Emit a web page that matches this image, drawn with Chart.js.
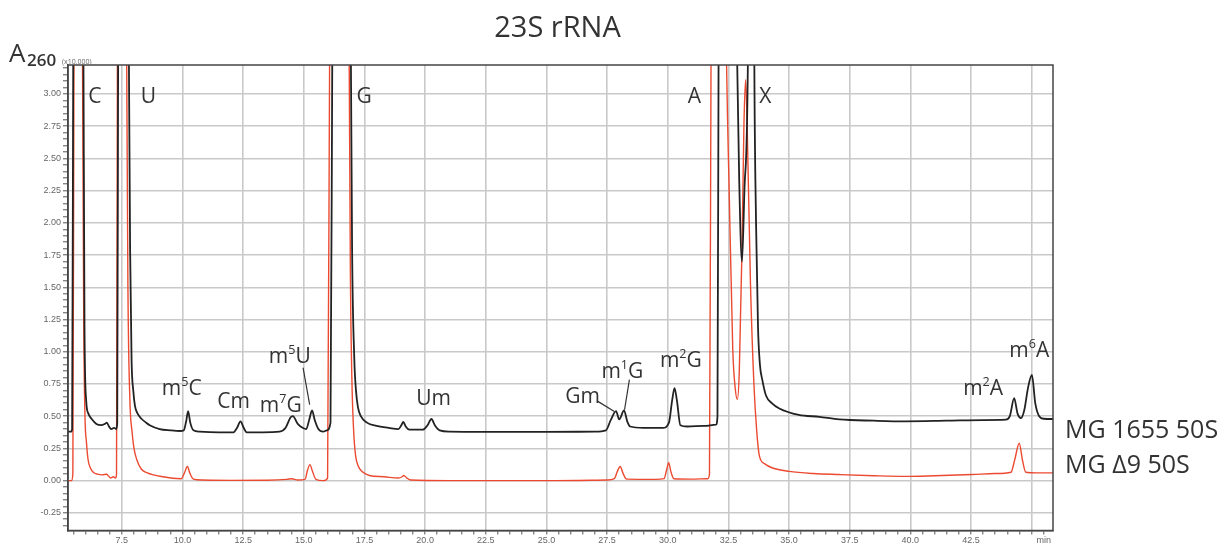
<!DOCTYPE html>
<html>
<head>
<meta charset="utf-8">
<title>23S rRNA</title>
<script src="https://cdn.jsdelivr.net/npm/chart.js@4.4.1/dist/chart.umd.min.js"></script>
<style>
    html, body { margin: 0; padding: 0; background: #fff; }
    #wrap { position: relative; width: 1227px; height: 546px; }
</style>
</head>
<body>
<div id="wrap"><canvas id="chart"></canvas></div>
<script>
// HPLC nucleoside trace: retention time (min) vs A260 (x10,000)
const chartTitle = '23S rRNA';
const seriesNames = ['MG 1655 50S', 'MG \u03949 50S'];
const seriesLabelLevel = [0.333, 0.062];

const xMin = 5.28, xMax = 45.88;
const yMin = -0.387, yMax = 3.225;
const xTickLabels = ['7.5', '10.0', '12.5', '15.0', '17.5', '20.0', '22.5', '25.0', '27.5', '30.0', '32.5', '35.0', '37.5', '40.0', '42.5'];
const xUnitLabel = 'min';
const xUnitAt = 45.5;
const yTickLabels = ['-0.25', '0.00', '0.25', '0.50', '0.75', '1.00', '1.25', '1.50', '1.75', '2.00', '2.25', '2.50', '2.75', '3.00'];

// MG 1655 50S (black)
const blackTime = [
    5.28, 5.40, 5.45, 5.50, 5.70, 5.91, 5.96, 6.03, 6.12, 6.25,
    6.45, 6.65, 6.80, 6.88, 6.97, 7.06, 7.18, 7.27, 7.31, 7.35,
    7.55, 7.78, 7.84, 7.90, 7.97, 8.04, 8.15, 8.31, 8.50, 8.65,
    9.06, 9.50, 9.90, 10.05, 10.15, 10.23, 10.32, 10.45, 10.70, 11.50,
    12.10, 12.25, 12.39, 12.52, 12.65, 13.30, 14.00, 14.25, 14.45, 14.55,
    14.75, 14.95, 15.10, 15.22, 15.34, 15.45, 15.60, 15.80, 15.95, 16.10,
    16.18, 16.55, 16.93, 16.99, 17.08, 17.15, 17.23, 17.35, 17.60, 18.00,
    18.50, 18.90, 19.02, 19.10, 19.20, 19.35, 19.90, 20.10, 20.26, 20.40,
    20.60, 21.00, 23.00, 25.00, 27.00, 27.45, 27.65, 27.87, 28.00, 28.20,
    28.33, 28.45, 29.00, 29.80, 30.05, 30.18, 30.28, 30.38, 30.52, 30.80,
    31.50, 31.99, 32.05, 32.10, 32.45, 32.83, 32.95, 33.06, 33.17, 33.32,
    33.44, 33.56, 33.64, 33.72, 33.80, 33.90, 34.05, 34.30, 34.60, 35.40,
    36.25, 37.07, 38.50, 39.80, 41.50, 43.00, 43.94, 44.10, 44.28, 44.42,
    44.56, 44.70, 44.85, 45.01, 45.15, 45.31, 45.50, 45.88
];
const blackA260 = [
    0.38, 0.38, 0.40, 3.6, 9.0, 3.6, 1.2, 0.62, 0.52, 0.48,
    0.44, 0.43, 0.44, 0.45, 0.42, 0.40, 0.41, 0.40, 0.45, 3.6,
    10.0, 3.6, 1.8, 0.94, 0.70, 0.58, 0.52, 0.48, 0.45, 0.43,
    0.40, 0.39, 0.385, 0.39, 0.46, 0.54, 0.45, 0.39, 0.38, 0.375,
    0.375, 0.41, 0.46, 0.41, 0.375, 0.375, 0.38, 0.41, 0.49, 0.50,
    0.44, 0.41, 0.40, 0.47, 0.545, 0.47, 0.40, 0.38, 0.39, 0.45,
    3.6, 12.0, 3.6, 1.8, 0.95, 0.70, 0.57, 0.50, 0.45, 0.425,
    0.41, 0.40, 0.43, 0.455, 0.42, 0.395, 0.395, 0.43, 0.478, 0.43,
    0.39, 0.38, 0.378, 0.378, 0.38, 0.39, 0.47, 0.54, 0.475, 0.545,
    0.46, 0.42, 0.41, 0.41, 0.45, 0.62, 0.718, 0.62, 0.43, 0.42,
    0.425, 0.434, 0.50, 3.6, 12.0, 3.6, 2.3, 1.70, 2.3, 3.6,
    12.0, 3.6, 2.0, 1.2, 0.90, 0.78, 0.66, 0.60, 0.56, 0.51,
    0.495, 0.475, 0.465, 0.46, 0.465, 0.47, 0.473, 0.50, 0.64, 0.52,
    0.486, 0.55, 0.72, 0.82, 0.60, 0.50, 0.48, 0.478
];

// MG Δ9 50S (red)
const redTime = [
    5.28, 5.42, 5.48, 5.53, 5.70, 5.87, 5.93, 5.98, 6.04, 6.11,
    6.20, 6.32, 6.50, 6.70, 6.87, 6.95, 7.03, 7.15, 7.24, 7.28,
    7.32, 7.50, 7.69, 7.75, 7.83, 7.92, 8.00, 8.12, 8.30, 8.55,
    8.80, 9.20, 9.60, 9.95, 10.08, 10.20, 10.30, 10.45, 10.80, 12.00,
    13.50, 14.30, 14.50, 14.75, 15.05, 15.15, 15.25, 15.36, 15.50, 15.80,
    15.98, 16.07, 16.45, 16.86, 16.92, 16.98, 17.05, 17.13, 17.23, 17.40,
    17.70, 18.30, 18.90, 19.05, 19.12, 19.25, 19.40, 21.00, 25.00, 27.50,
    27.80, 27.92, 28.04, 28.15, 28.30, 29.50, 29.85, 29.95, 30.04, 30.13,
    30.25, 31.00, 31.65, 31.72, 31.79, 32.05, 32.40, 32.54, 32.68, 32.78,
    32.87, 32.95, 33.06, 33.14, 33.21, 33.28, 33.41, 33.55, 33.67, 33.78,
    34.00, 34.32, 35.00, 36.00, 37.07, 38.50, 39.80, 41.00, 42.55, 43.50,
    44.15, 44.30, 44.49, 44.62, 44.76, 45.20, 45.88
];
const redA260 = [
    0.0, 0.0, 0.05, 3.6, 9.0, 3.6, 1.2, 0.50, 0.30, 0.16,
    0.10, 0.065, 0.05, 0.045, 0.05, 0.035, 0.02, 0.03, 0.02, 0.05,
    3.6, 10.0, 3.6, 1.5, 0.63, 0.38, 0.25, 0.16, 0.09, 0.06,
    0.045, 0.03, 0.018, 0.015, 0.06, 0.11, 0.06, 0.012, 0.005, 0.002,
    0.003, 0.01, 0.015, 0.005, 0.01, 0.08, 0.124, 0.07, 0.01, 0.0,
    0.02, 3.6, 12.0, 3.6, 1.6, 0.8, 0.4, 0.2, 0.12, 0.07,
    0.04, 0.03, 0.02, 0.03, 0.04, 0.02, 0.005, 0.0, 0.0, 0.005,
    0.015, 0.07, 0.11, 0.06, 0.012, 0.01, 0.015, 0.08, 0.14, 0.07,
    0.015, 0.012, 0.015, 0.05, 3.6, 12.0, 3.6, 2.18, 1.02, 0.72,
    0.63, 0.85, 1.79, 2.75, 3.11, 2.7, 1.53, 0.76, 0.38, 0.19,
    0.13, 0.098, 0.072, 0.055, 0.047, 0.038, 0.033, 0.038, 0.047, 0.055,
    0.065, 0.16, 0.29, 0.16, 0.065, 0.06, 0.06
];

// peak annotations (time, A260 of the text baseline)
const peakNames = ['C', 'U', 'G', 'A', 'X', 'm5C', 'Cm', 'm7G', 'm5U', 'Um', 'Gm', 'm1G', 'm2G', 'm2A', 'm6A'];
const peakLabelTime = [6.39, 8.59, 17.49, 31.1, 34.02, 9.97, 12.11, 14.05, 14.42, 20.35, 26.49, 28.13, 30.54, 43.0, 44.9];
const peakLabelLevel = [2.93, 2.93, 2.93, 2.93, 2.93, 0.667, 0.566, 0.535, 0.915, 0.589, 0.605, 0.798, 0.884, 0.667, 0.961];
const leaderFrom = [[14.97, 0.876], [27.12, 0.615], [28.42, 0.783]];
const leaderTo = [[15.24, 0.589], [27.80, 0.537], [28.22, 0.55]];

const FONT = "'Open Sans', 'Noto Sans', sans-serif";
const TICK_FONT = "'Liberation Sans', Arial, sans-serif";
const GRID = '#c9c9c9';

function toPoints(xs, ys) {
    return xs.map(function (t, i) { return { x: t, y: ys[i] }; });
}

function isMultiple(v, step) {
    const q = v / step;
    return Math.abs(q - Math.round(q)) < 1e-6;
}

function drawPeakName(ctx, name, cx, baseY, size) {
    const m = name.match(/^m(\d)(.*)$/);
    const parts = m
        ? [{ s: 'm', f: size, dy: 0 }, { s: m[1], f: size * 0.6, dy: -size * 0.4 }, { s: m[2], f: size, dy: 0 }]
        : [{ s: name, f: size, dy: 0 }];
    let w = 0;
    parts.forEach(function (p) {
        ctx.font = p.f + 'px ' + FONT;
        p.w = ctx.measureText(p.s).width;
        w += p.w;
    });
    let xx = cx - w / 2;
    parts.forEach(function (p) {
        ctx.font = p.f + 'px ' + FONT;
        ctx.fillText(p.s, xx, baseY + p.dy);
        xx += p.w;
    });
}

const annotatePlugin = {
    id: 'annotate',
    afterDraw: function (chart) {
        const ctx = chart.ctx;
        const area = chart.chartArea;
        const x = chart.scales.x, y = chart.scales.y;
        ctx.save();

        // frame
        ctx.strokeStyle = '#444';
        ctx.lineWidth = 1.5;
        ctx.strokeRect(area.left, area.top, area.right - area.left, area.bottom - area.top);

        ctx.fillStyle = '#333';
        ctx.textAlign = 'left';
        ctx.textBaseline = 'alphabetic';

        // title
        ctx.font = '29px ' + FONT;
        ctx.textAlign = 'center';
        ctx.fillText(chartTitle, (area.left + area.right) / 2 - 3, 37);
        ctx.textAlign = 'left';

        // y axis caption
        ctx.font = '26px ' + FONT;
        ctx.fillText('A', 9, 62);
        ctx.font = '600 17px ' + FONT;
        ctx.fillText('260', 27, 66);
        ctx.fillStyle = '#666';
        ctx.font = '7px ' + FONT;
        ctx.fillText('(x10,000)', 62, 64);

        // peak names
        ctx.fillStyle = '#333';
        peakNames.forEach(function (name, i) {
            drawPeakName(ctx, name, x.getPixelForValue(peakLabelTime[i]), y.getPixelForValue(peakLabelLevel[i]), 21);
        });

        // leader lines
        ctx.strokeStyle = '#333';
        ctx.lineWidth = 1.2;
        leaderFrom.forEach(function (p, i) {
            ctx.beginPath();
            ctx.moveTo(x.getPixelForValue(p[0]), y.getPixelForValue(p[1]));
            ctx.lineTo(x.getPixelForValue(leaderTo[i][0]), y.getPixelForValue(leaderTo[i][1]));
            ctx.stroke();
        });

        // series names at the right of the traces
        ctx.font = '25px ' + FONT;
        seriesNames.forEach(function (name, i) {
            ctx.fillText(name, area.right + 12, y.getPixelForValue(seriesLabelLevel[i]));
        });
        ctx.restore();
    }
};

new Chart(document.getElementById('chart'), {
    type: 'line',
    data: {
        datasets: [
            {
                label: seriesNames[0],
                data: toPoints(blackTime, blackA260),
                borderColor: '#222',
                borderWidth: 1.8,
                pointRadius: 0,
                cubicInterpolationMode: 'monotone',
                fill: false
            },
            {
                label: seriesNames[1],
                data: toPoints(redTime, redA260),
                borderColor: '#ec4a30',
                borderWidth: 1.4,
                pointRadius: 0,
                cubicInterpolationMode: 'monotone',
                fill: false
            }
        ]
    },
    options: {
        responsive: true,
        maintainAspectRatio: false,
        animation: false,
        events: [],
        layout: { padding: { top: 65, right: 174, left: 0, bottom: 0 } },
        plugins: {
            legend: { display: false },
            tooltip: { enabled: false },
            title: { display: false }
        },
        scales: {
            x: {
                type: 'linear',
                min: xMin,
                max: xMax,
                afterBuildTicks: function (axis) {
                    const ticks = [];
                    for (let k = Math.ceil(axis.min * 2); k <= Math.floor(axis.max * 2); k++) ticks.push({ value: k / 2 });
                    axis.ticks = ticks;
                },
                afterFit: function (axis) { axis.height = 15.5; },
                ticks: {
                    autoSkip: false,
                    maxRotation: 0,
                    padding: 1,
                    color: '#666',
                    font: { family: TICK_FONT, size: 9 },
                    callback: function (value) {
                        const s = value.toFixed(1);
                        if (xTickLabels.indexOf(s) >= 0) return s;
                        if (Math.abs(value - xUnitAt) < 1e-6) return xUnitLabel;
                        return '';
                    }
                },
                grid: {
                    color: function (c) { return c.tick && isMultiple(c.tick.value, 2.5) ? GRID : 'rgba(0,0,0,0)'; },
                    lineWidth: 1.6,
                    tickColor: '#555',
                    tickLength: 4,
                    tickWidth: 1
                },
                border: { color: '#444', width: 1.5 }
            },
            y: {
                type: 'linear',
                min: yMin,
                max: yMax,
                afterBuildTicks: function (axis) {
                    const ticks = [];
                    for (let k = Math.ceil(axis.min * 20); k <= Math.floor(axis.max * 20); k++) ticks.push({ value: k / 20 });
                    axis.ticks = ticks;
                },
                afterFit: function (axis) { axis.width = 68; },
                ticks: {
                    autoSkip: false,
                    padding: 2,
                    color: '#666',
                    font: { family: TICK_FONT, size: 9 },
                    callback: function (value) {
                        const s = (Math.abs(value) < 1e-9 ? 0 : value).toFixed(2);
                        return yTickLabels.indexOf(s) >= 0 ? s : '';
                    }
                },
                grid: {
                    color: function (c) { return c.tick && isMultiple(c.tick.value, 0.25) ? GRID : 'rgba(0,0,0,0)'; },
                    lineWidth: 1.6,
                    tickColor: '#555',
                    tickLength: 5,
                    tickWidth: 1
                },
                border: { color: '#444', width: 1.5 }
            }
        }
    },
    plugins: [annotatePlugin]
});
</script>
</body>
</html>
